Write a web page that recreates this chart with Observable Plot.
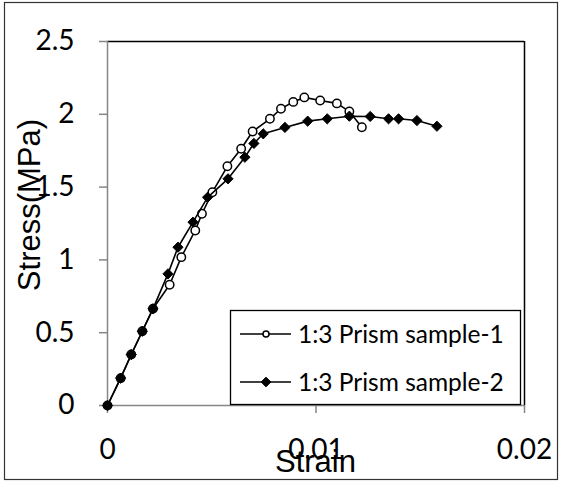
<!DOCTYPE html>
<html>
<head>
<meta charset="utf-8">
<script src="https://cdn.jsdelivr.net/npm/d3@7"></script>
<script src="https://cdn.jsdelivr.net/npm/@observablehq/plot@0.6"></script>
<style>
  html, body { margin: 0; padding: 0; background: #fff; }
  #chart { position: relative; width: 562px; height: 483px; }
</style>
</head>
<body>
<div id="chart"></div>
<script>
// ---- data ----
const seriesNames = ["1:3 Prism sample-1", "1:3 Prism sample-2"];

const strain1 = [0, 0.00063, 0.00114, 0.00167, 0.00218, 0.00298, 0.00354, 0.00421, 0.00453, 0.00503, 0.00575, 0.00641, 0.00696, 0.00779, 0.00832, 0.00891, 0.00944, 0.0102, 0.0110, 0.0116, 0.0122];
const stress1 = [0, 0.188, 0.35, 0.51, 0.665, 0.829, 1.019, 1.202, 1.317, 1.465, 1.643, 1.763, 1.882, 1.969, 2.038, 2.085, 2.116, 2.095, 2.075, 2.02, 1.911];

const strain2 = [0, 0.00063, 0.00114, 0.00167, 0.00218, 0.0029, 0.00338, 0.0041, 0.0048, 0.00578, 0.00659, 0.00702, 0.00747, 0.00851, 0.0096, 0.01054, 0.0116, 0.0126, 0.01348, 0.01396, 0.01484, 0.0158];
const stress2 = [0, 0.188, 0.35, 0.51, 0.664, 0.904, 1.087, 1.259, 1.43, 1.557, 1.705, 1.80, 1.866, 1.91, 1.953, 1.969, 1.987, 1.985, 1.969, 1.969, 1.957, 1.918];

const xTicks = [0, 0.01, 0.02];
const xTickLabels = ["0", "0.01", "0.02"];
const yTicks = [0, 0.5, 1, 1.5, 2, 2.5];
const yTickLabels = ["0", "0.5", "1", "1.5", "2", "2.5"];
const xTitle = "Strain";
const yTitle = "Stress(MPa)";

const s1 = strain1.map((x, i) => ({x, y: stress1[i]}));
const s2 = strain2.map((x, i) => ({x, y: stress2[i]}));

const grey = "#868686";

const plot = Plot.plot({
  width: 562,
  height: 483,
  marginLeft: 107,
  marginRight: 38,
  marginTop: 41,
  marginBottom: 78,
  style: {fontFamily: "Lato", fontSize: "28px", background: "white", overflow: "visible"},
  x: {domain: [0, 0.02]},
  y: {domain: [0, 2.5]},
  marks: [
    Plot.ruleY([2.5], {stroke: "black", strokeWidth: 1.5}),
    Plot.ruleX([0.02], {stroke: "black", strokeWidth: 1.5}),
    Plot.axisX({ticks: xTicks, tickFormat: d => xTickLabels[xTicks.indexOf(d)], tickSize: 8, tickPadding: 26, stroke: grey, strokeWidth: 1.5, label: null, fontSize: 28}),
    Plot.axisY({ticks: yTicks, tickFormat: d => yTickLabels[yTicks.indexOf(d)], tickSize: 8, tickPadding: 25, stroke: grey, strokeWidth: 1.5, label: null, fontSize: 28}),
    Plot.ruleX([0], {stroke: grey, strokeWidth: 1.5}),
    Plot.ruleY([0], {stroke: grey, strokeWidth: 1.5}),
    Plot.line(s1, {x: "x", y: "y", stroke: "black", strokeWidth: 1.6}),
    Plot.dot(s1, {x: "x", y: "y", r: 4.2, fill: "white", stroke: "black", strokeWidth: 1.5}),
    Plot.line(s2, {x: "x", y: "y", stroke: "black", strokeWidth: 1.6}),
    Plot.dot(s2, {x: "x", y: "y", symbol: "diamond2", r: 4.6, fill: "black", stroke: "black", strokeWidth: 1})
  ]
});

document.getElementById("chart").appendChild(plot);

const svg = d3.select(plot);
// outer chart border
svg.insert("rect", ":first-child")
  .attr("x", 4.5).attr("y", 2.5).attr("width", 553).attr("height", 477)
  .attr("fill", "white").attr("stroke", "#333").attr("stroke-width", 1.2);

// axis titles
svg.append("text").attr("x", 315.5).attr("y", 472)
  .attr("text-anchor", "middle").attr("font-family", "Liberation Sans").attr("font-size", 31)
  .attr("fill", "black").text(xTitle);
svg.append("text").attr("transform", "translate(40,205) rotate(-90)")
  .attr("text-anchor", "middle").attr("font-family", "Liberation Sans").attr("font-size", 31)
  .attr("fill", "black").text(yTitle);

// legend
const lg = svg.append("g");
lg.append("rect").attr("x", 230.5).attr("y", 310.5).attr("width", 290).attr("height", 94)
  .attr("fill", "white").attr("stroke", "black").attr("stroke-width", 1.3);
const rowsY = [334, 382];
seriesNames.forEach((name, i) => {
  const y = rowsY[i];
  lg.append("line").attr("x1", 240).attr("x2", 291).attr("y1", y).attr("y2", y)
    .attr("stroke", "black").attr("stroke-width", 1.6);
  if (i === 0) {
    lg.append("circle").attr("cx", 266).attr("cy", y).attr("r", 3)
      .attr("fill", "white").attr("stroke", "black").attr("stroke-width", 1.5);
  } else {
    lg.append("path").attr("d", d3.symbol(d3.symbolDiamond2, 60)()).attr("transform", `translate(266,${y})`)
      .attr("fill", "black").attr("stroke", "black");
  }
  lg.append("text").attr("x", 298).attr("y", y).attr("dy", "0.35em")
    .attr("text-anchor", "start")
    .attr("font-family", "Lato").attr("font-size", 24.5).attr("fill", "black")
    .text(name);
});
</script>
</body>
</html>
